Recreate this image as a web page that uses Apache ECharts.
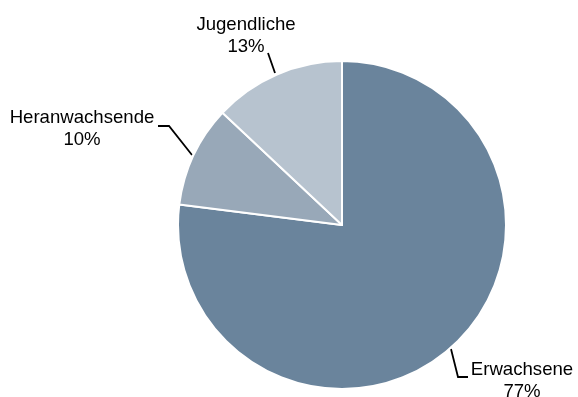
<!DOCTYPE html>
<html><head><meta charset="utf-8">
<script src="https://cdn.jsdelivr.net/npm/echarts@6/dist/echarts.min.js"></script>
<style>html,body{margin:0;padding:0;background:#fff}#c{width:578px;height:397px}</style>
</head><body><div id="c"></div>
<script>
const categories = ['Erwachsene', 'Heranwachsende', 'Jugendliche'];
const values = [77, 10, 13];
const colors = ['#6a849c', '#98a8b8', '#b7c3cf'];

const labelPos = [
  {x: 522, y: 381, pts: [[451, 349], [458, 377], [468, 377]]},
  {x: 82, y: 129, pts: [[192, 155], [169, 126], [158, 126]]},
  {x: 246, y: 36, pts: [[275, 73], [268, 53], [268, 53]]}
];

const chart = echarts.init(document.getElementById('c'), null, {renderer: 'canvas'});
chart.setOption({
  animation: false,
  series: [{
    type: 'pie',
    center: [342, 225],
    radius: [0, 164],
    startAngle: 90,
    clockwise: true,
    data: categories.map((n, i) => ({name: n, value: values[i], itemStyle: {color: colors[i]}})),
    itemStyle: {borderColor: '#fff', borderWidth: 2},
    label: {
      show: true,
      formatter: p => p.name + '\n' + p.value + '%',
      fontFamily: 'Liberation Sans, Arial, sans-serif',
      fontSize: 18.6,
      lineHeight: 22,
      color: '#000',
      align: 'center',
      overflow: 'none'
    },
    labelLine: {show: true, lineStyle: {color: '#000', width: 1.8}, length: 10, length2: 10},
    labelLayout: function (p) {
      const L = labelPos[p.dataIndex];
      return {x: L.x, y: L.y, align: 'center', verticalAlign: 'middle', labelLinePoints: L.pts, width: 200};
    },
    emphasis: {disabled: true}
  }]
});
</script></body></html>
